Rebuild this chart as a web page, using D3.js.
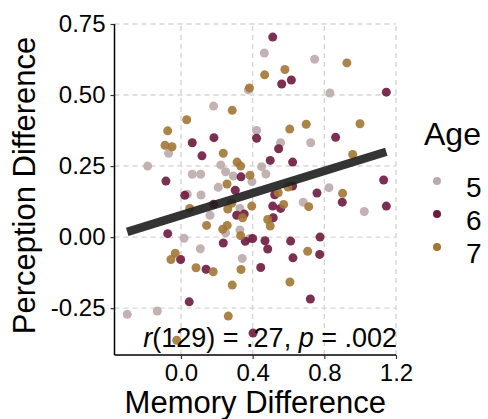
<!DOCTYPE html>
<html>
<head>
<meta charset="utf-8">
<script src="https://cdn.jsdelivr.net/npm/d3@7"></script>
<style>
  body { margin: 0; background: #fff; }
  text { font-family: "Liberation Sans", Arial, sans-serif; fill: #000; }
</style>
</head>
<body>
<svg id="chart"></svg>
<script>
// age groups shown in the legend
const ages = ["5", "6", "7"];
const ageColors = ["#bcaaab", "#6e1a3e", "#a27735"];

// [memory difference, perception difference] per child
const age5 = [
  [0.376, 0.518], [0.182, 0.461], [0.422, 0.375], [-0.069, 0.295], [-0.186, 0.250],
  [0.222, 0.254], [0.249, 0.230], [0.063, 0.221], [0.110, 0.221], [0.292, 0.215],
  [0.465, 0.648], [0.746, 0.626], [0.831, 0.507], [0.556, 0.332], [0.724, 0.332],
  [0.450, 0.248], [0.474, 0.222], [0.826, 0.174], [1.023, 0.090], [0.682, 0.123],
  [0.396, 0.195], [0.035, 0.151], [0.112, 0.148], [0.208, 0.175], [0.162, 0.077],
  [0.329, 0.101], [0.249, 0.015], [0.329, 0.025], [0.385, -0.005], [0.017, -0.004],
  [0.108, -0.041], [0.342, -0.075], [-0.300, -0.272], [-0.132, -0.260]
];
const age6 = [
  [0.422, 0.348], [0.184, 0.350], [0.063, 0.332], [0.117, 0.286], [0.335, 0.212],
  [-0.084, 0.197], [0.512, 0.704], [0.562, 0.539], [0.616, 0.553], [1.146, 0.510],
  [0.863, 0.351], [0.545, 0.311], [0.498, 0.270], [0.623, 0.264], [1.131, 0.201],
  [0.900, 0.123], [1.146, 0.109], [0.759, 0.155], [0.623, 0.180], [0.556, 0.101],
  [0.512, 0.109], [0.523, 0.149], [0.515, 0.068], [0.400, -0.005], [0.469, -0.013],
  [0.484, -0.042], [0.612, -0.014], [0.776, 0.000], [0.774, -0.061], [0.625, -0.073],
  [0.445, -0.107], [0.722, -0.218], [0.402, -0.338], [0.021, 0.147], [0.303, 0.165],
  [0.182, 0.116], [0.311, 0.077], [0.353, 0.081], [0.236, -0.021], [0.359, -0.015],
  [-0.074, 0.012], [-0.002, -0.079], [0.140, -0.113], [0.046, -0.228]
];
const age7 = [
  [0.382, 0.525], [0.286, 0.446], [0.032, 0.413], [-0.074, 0.374], [-0.089, 0.323],
  [-0.050, 0.318], [0.236, 0.295], [0.313, 0.264], [0.333, 0.250], [0.385, 0.218],
  [0.926, 0.613], [0.467, 0.571], [0.580, 0.590], [0.607, 0.380], [0.699, 0.397],
  [0.999, 0.399], [0.958, 0.291], [0.902, 0.154], [0.713, 0.107], [0.573, 0.115],
  [0.543, 0.156], [0.484, 0.062], [0.498, 0.039], [0.395, 0.109], [0.707, -0.050],
  [0.608, -0.158], [0.257, 0.187], [0.049, 0.101], [0.143, 0.041], [0.261, 0.099],
  [0.283, 0.119], [0.344, 0.068], [0.258, 0.041], [0.233, 0.028], [0.333, 0.005],
  [-0.032, -0.057], [-0.056, -0.079], [0.084, -0.108], [0.180, -0.122], [0.335, -0.114],
  [0.286, -0.169], [0.264, -0.278], [-0.024, -0.363], [0.597, 0.176]
];

// fitted line: intercept, slope, x range
const fitIntercept = 0.077;
const fitSlope = 0.195;
const fitRange = [-0.300, 1.146];

const xTicks = [0.0, 0.4, 0.8, 1.2];
const yTicks = [-0.25, 0.0, 0.25, 0.50, 0.75];
const statLabel = ["r", "(129) = .27, ", "p", " = .002"];

const width = 488;
const height = 419;
const margin = {top: 24, left: 114.5, right: 92, bottom: 64};

const svg = d3.select("#chart")
  .attr("width", width)
  .attr("height", height);

const x = d3.scaleLinear()
  .domain([-0.371, 1.2])
  .range([margin.left, width - margin.right]);
const y = d3.scaleLinear()
  .domain([-0.415, 0.75])
  .range([height - margin.bottom, margin.top]);
const color = d3.scaleOrdinal().domain(ages).range(ageColors);

// plain hyphen for negatives, like the original
const fmt = f => d => d3.format(f)(d).replace("\u2212", "-");

// dashed grid
const grid = svg.append("g").attr("stroke", "#d6d6d6").attr("stroke-width", 1.4)
  .attr("stroke-dasharray", "5,4");
grid.selectAll(".gx").data(xTicks).enter().append("line")
  .attr("x1", d => x(d)).attr("x2", d => x(d))
  .attr("y1", y.range()[0]).attr("y2", y.range()[1]);
grid.selectAll(".gy").data(yTicks).enter().append("line")
  .attr("y1", d => y(d)).attr("y2", d => y(d))
  .attr("x1", x.range()[0]).attr("x2", x.range()[1]);

// points
const groups = [age5, age6, age7];
groups.forEach((pts, i) => {
  svg.append("g").selectAll("circle").data(pts).enter().append("circle")
    .attr("cx", d => x(d[0]))
    .attr("cy", d => y(d[1]))
    .attr("r", 4.5)
    .attr("fill", color(ages[i]))
    .attr("fill-opacity", 0.9);
});

// regression line
svg.append("line")
  .attr("x1", x(fitRange[0])).attr("y1", y(fitIntercept + fitSlope * fitRange[0]))
  .attr("x2", x(fitRange[1])).attr("y2", y(fitIntercept + fitSlope * fitRange[1]))
  .attr("stroke", "#1e1e1e")
  .attr("stroke-opacity", 0.9)
  .attr("stroke-width", 8.5);

// axes
const xAxis = svg.append("g")
  .attr("transform", `translate(0,${y.range()[0]})`)
  .call(d3.axisBottom(x).tickValues(xTicks).tickFormat(fmt(".1f")).tickSizeOuter(0).tickSize(4).tickPadding(5));
const yAxis = svg.append("g")
  .attr("transform", `translate(${x.range()[0]},0)`)
  .call(d3.axisLeft(y).tickValues(yTicks).tickFormat(fmt(".2f")).tickSizeOuter(0).tickSize(4).tickPadding(5));
[xAxis, yAxis].forEach(a => {
  a.select(".domain").attr("stroke", "#000").attr("stroke-width", 1.5);
  a.selectAll(".tick line").attr("stroke", "#333").attr("stroke-width", 1.2);
  a.selectAll(".tick text").attr("font-size", 24).attr("fill", "#1a1a1a")
    .attr("font-family", "Liberation Sans, Arial, sans-serif");
});
// axis lines span the full panel
xAxis.select(".domain").attr("d", `M${x.range()[0]},0H${x.range()[1]}`);
yAxis.select(".domain").attr("d", `M0,${y.range()[0]}V${y.range()[1]}`);

// axis titles
svg.append("text")
  .attr("x", (x.range()[0] + x.range()[1]) / 2)
  .attr("y", 413)
  .attr("text-anchor", "middle")
  .attr("font-size", 31)
  .text("Memory Difference");
svg.append("text")
  .attr("transform", `translate(35,${(y.range()[0] + y.range()[1]) / 2 - 4}) rotate(-90)`)
  .attr("text-anchor", "middle")
  .attr("font-size", 31)
  .text("Perception Difference");

// stats annotation
const stat = svg.append("text")
  .attr("x", x.range()[1] + 1)
  .attr("y", 347)
  .attr("text-anchor", "end")
  .attr("font-size", 27);
statLabel.forEach((s, i) => {
  stat.append("tspan").attr("font-style", i % 2 === 0 ? "italic" : "normal").text(s);
});

// legend
const legend = svg.append("g");
legend.append("text")
  .attr("x", 424).attr("y", 145)
  .attr("font-size", 32)
  .text("Age");
ages.forEach((a, i) => {
  const cy = 181 + i * 33;
  legend.append("circle")
    .attr("cx", 437).attr("cy", cy).attr("r", 4)
    .attr("fill", color(a));
  legend.append("text")
    .attr("x", 466).attr("y", cy + 16)
    .attr("font-size", 28)
    .text(a);
});
</script>
</body>
</html>
